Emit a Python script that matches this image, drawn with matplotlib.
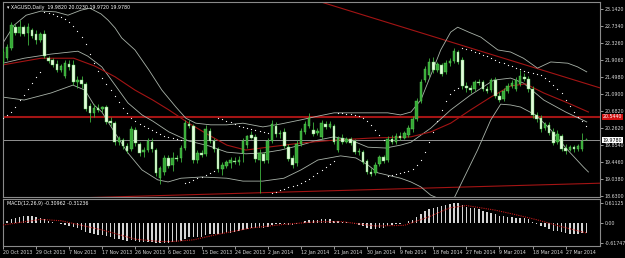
import matplotlib
matplotlib.use("Agg")
import matplotlib.pyplot as plt
from matplotlib.transforms import blended_transform_factory

# ---------- data (XAGUSD daily) ----------
OPEN = [21.87, 21.97, 22.21, 22.71, 22.57, 22.71, 22.57, 22.64, 22.55, 22.40,
        22.55, 21.97, 21.92, 21.82, 21.68, 21.53, 21.82, 21.80, 21.39, 21.43,
        21.34, 20.81, 20.64, 20.76, 20.73, 20.78, 20.44, 20.39, 19.94, 19.98,
        19.84, 19.77, 20.23, 19.89, 19.69, 19.74, 19.94, 19.74, 19.07, 19.21,
        19.55, 19.38, 19.55, 19.55, 19.79, 20.37, 20.32, 19.50, 19.67, 19.65,
        20.20, 19.96, 19.77, 19.28, 19.36, 19.43, 19.48, 19.45, 19.67, 19.86,
        20.10, 20.06, 19.50, 19.65, 19.50, 19.96, 20.32, 20.13, 20.18, 19.82,
        19.55, 19.43, 19.89, 20.18, 20.32, 20.23, 20.15, 20.06, 20.37, 20.30,
        20.32, 19.74, 20.03, 19.94, 20.01, 19.96, 19.69, 19.69, 19.48, 19.21,
        19.19, 19.41, 19.58, 19.50, 20.01, 19.94, 20.08, 20.03, 20.10, 20.25,
        20.49, 20.93, 21.43, 21.56, 21.87, 21.68, 21.80, 21.63, 21.84, 21.89,
        22.11, 21.92, 21.29, 21.24, 21.22, 21.39, 21.39, 21.22, 21.19, 21.43,
        21.05, 20.98, 21.17, 21.29, 21.22, 21.34, 21.51, 21.46, 21.22, 20.59,
        20.52, 20.28, 20.35, 20.18, 19.94, 20.08, 19.79, 19.74, 19.82, 19.77,
        19.77, 19.982]
HIGH = [22.21, 22.30, 22.84, 22.79, 22.88, 22.76, 22.81, 22.69, 22.64, 22.59,
        22.64, 22.01, 21.97, 21.92, 21.82, 21.92, 21.92, 21.92, 21.53, 21.53,
        21.39, 20.88, 20.85, 20.85, 20.81, 20.83, 20.54, 20.44, 20.08, 20.03,
        19.91, 20.32, 20.30, 19.94, 19.81, 20.03, 20.03, 19.79, 19.36, 19.62,
        19.62, 19.69, 19.62, 19.86, 20.47, 20.47, 20.37, 19.74, 19.74, 20.35,
        20.28, 20.03, 19.82, 19.45, 19.50, 19.57, 19.57, 19.60, 20.03, 20.10,
        20.20, 20.13, 19.77, 19.69, 20.03, 20.47, 20.42, 20.23, 20.27, 19.89,
        19.62, 19.98, 20.27, 20.44, 20.64, 20.42, 20.27, 20.47, 20.44, 20.44,
        20.37, 20.08, 20.13, 20.06, 20.06, 20.01, 19.79, 19.74, 19.53, 19.31,
        19.45, 19.62, 19.62, 20.08, 20.10, 20.15, 20.18, 20.20, 20.35, 20.57,
        21.00, 21.46, 21.77, 21.97, 21.99, 21.87, 21.84, 21.92, 21.97, 22.21,
        22.16, 21.99, 21.39, 21.31, 21.43, 21.46, 21.43, 21.29, 21.48, 21.51,
        21.14, 21.24, 21.36, 21.43, 21.51, 21.68, 21.60, 21.53, 21.29, 20.66,
        20.59, 20.42, 20.42, 20.28, 20.23, 20.13, 19.89, 19.86, 19.86, 19.89,
        20.15, 20.023]
LOW = [21.82, 21.92, 22.16, 22.52, 22.50, 22.50, 22.28, 22.45, 22.30, 22.35,
       21.97, 21.84, 21.75, 21.63, 21.63, 21.48, 21.68, 21.31, 21.24, 21.24,
       20.69, 20.42, 20.54, 20.66, 20.66, 20.37, 20.32, 19.86, 19.86, 19.77,
       19.67, 19.72, 19.84, 19.60, 19.57, 19.69, 19.69, 19.11, 18.92, 19.14,
       19.31, 19.24, 19.48, 19.45, 19.74, 20.28, 19.43, 19.43, 19.57, 19.60,
       19.91, 19.69, 19.21, 19.14, 19.31, 19.31, 19.40, 19.38, 19.45, 19.79,
       20.01, 19.45, 18.70, 19.43, 19.43, 19.91, 20.06, 20.03, 19.79, 19.48,
       19.31, 19.36, 19.84, 20.13, 20.27, 20.08, 20.10, 20.01, 20.25, 20.28,
       19.89, 19.69, 19.89, 19.91, 19.86, 19.65, 19.62, 19.41, 19.16, 19.11,
       19.14, 19.36, 19.43, 19.45, 19.89, 19.89, 19.98, 20.01, 20.06, 20.18,
       20.44, 20.88, 21.39, 21.48, 21.60, 21.63, 21.53, 21.58, 21.77, 21.84,
       21.82, 21.22, 21.14, 21.12, 21.17, 21.31, 21.17, 21.12, 21.14, 21.00,
       20.90, 20.93, 21.12, 21.24, 21.17, 21.29, 21.41, 21.14, 20.52, 20.42,
       20.18, 20.23, 20.10, 19.86, 19.89, 19.72, 19.65, 19.72, 19.69, 19.72,
       19.72, 19.972]
CLOSE = [22.11, 22.23, 22.76, 22.57, 22.71, 22.55, 22.71, 22.50, 22.40, 22.55,
         22.01, 21.89, 21.80, 21.68, 21.77, 21.84, 21.75, 21.39, 21.43, 21.34,
         20.73, 20.64, 20.76, 20.71, 20.78, 20.42, 20.39, 19.94, 20.03, 19.84,
         19.72, 20.25, 19.91, 19.67, 19.74, 19.96, 19.77, 19.19, 19.31, 19.55,
         19.36, 19.55, 19.53, 19.79, 20.40, 20.32, 19.50, 19.67, 19.62, 20.25,
         19.96, 19.77, 19.28, 19.38, 19.45, 19.50, 19.45, 19.50, 19.96, 20.08,
         20.03, 19.53, 19.67, 19.48, 19.96, 20.37, 20.13, 20.15, 19.84, 19.53,
         19.38, 19.89, 20.20, 20.37, 20.52, 20.13, 20.20, 20.39, 20.30, 20.37,
         19.94, 20.03, 19.94, 20.01, 19.91, 19.69, 19.72, 19.45, 19.21, 19.16,
         19.38, 19.58, 19.48, 20.01, 19.94, 20.08, 20.03, 20.15, 20.28, 20.49,
         20.93, 21.39, 21.70, 21.87, 21.68, 21.82, 21.58, 21.84, 21.89, 22.14,
         21.87, 21.29, 21.24, 21.19, 21.39, 21.36, 21.22, 21.17, 21.43, 21.05,
         20.95, 21.17, 21.29, 21.36, 21.43, 21.53, 21.46, 21.22, 20.59, 20.49,
         20.25, 20.37, 20.15, 19.91, 20.13, 19.77, 19.72, 19.82, 19.77, 19.84,
         19.96, 19.978]

# parabolic SAR, one dot per bar
SAR = [20.51, 20.59, 20.66, 20.78, 20.95, 21.07, 21.22, 21.36, 21.51, 21.63,
       23.08, 23.05, 23.03, 22.98, 22.96, 22.91, 22.84, 22.74, 22.62, 22.47,
       22.30, 22.06, 21.84, 21.65, 21.48, 21.34, 21.19, 21.05, 20.90, 20.76,
       20.64, 20.51, 20.44, 20.37, 20.32, 20.27, 20.23, 20.18, 20.13, 20.08,
       20.06, 20.03, 20.01, 19.98, 18.94, 18.97, 19.02, 19.06, 19.09, 19.14,
       19.19, 19.23, 20.51, 20.49, 20.44, 20.42, 20.37, 20.32, 20.30, 20.27,
       20.25, 20.23, 20.20, 20.18, 20.15, 18.70, 18.73, 18.77, 18.80, 18.85,
       18.87, 18.90, 18.94, 18.99, 19.04, 19.11, 19.19, 19.26, 19.33, 19.40,
       19.48, 20.64, 20.64, 20.61, 20.61, 20.59, 20.56, 20.51, 20.44, 20.35,
       20.23, 20.10, 19.98, 19.11, 19.14, 19.16, 19.19, 19.21, 19.23, 19.28,
       19.38, 19.50, 19.69, 19.93, 20.18, 20.44, 20.71, 20.93, 21.09, 21.19,
       21.24, 22.21, 22.18, 22.16, 22.11, 22.09, 22.04, 22.01, 21.96, 21.92,
       21.87, 21.84, 21.80, 21.77, 21.72, 21.70, 21.65, 21.63, 21.60, 21.58,
       21.55, 21.48, 21.41, 21.31, 21.22, 21.12, 20.95, 20.80, 20.66, 20.54,
       20.44, 20.32]

# Bollinger bands and moving average, read at sample bars
UP_X = [0, 2.7, 5.6, 9.2, 12.8, 15.7, 18.8, 21.0, 23.7, 25.4, 27.1, 28.7, 31.9, 35.3, 38.4,
        41.8, 44.2, 46.6, 50.2, 54.1, 58.0, 62.8, 67.1, 72.0, 76.1, 80.0, 86.5, 93.0, 96.1,
        98.6, 101.0, 103.4, 105.8, 108.2, 109.9, 112.6, 115.5, 119.6, 122.7, 125.8, 129.2,
        132.4, 136.5, 138.9, 141.1]
UP_Y = [22.33, 22.76, 23.00, 23.10, 23.08, 23.00, 23.12, 23.17, 23.03, 22.88, 22.69, 22.45,
        22.16, 21.67, 21.19, 20.78, 20.51, 20.39, 20.35, 20.35, 20.39, 20.30, 20.37, 20.47,
        20.56, 20.64, 20.64, 20.64, 20.59, 20.66, 20.95, 21.55, 22.16, 22.59, 22.71, 22.59,
        22.47, 22.16, 22.11, 21.96, 21.72, 21.87, 21.84, 21.75, 21.63]
MID_X = [0, 5.1, 11.6, 18.1, 20.5, 23.9, 27.1, 30.2, 33.6, 36.2, 40.1, 44.9, 49.8, 54.1,
         58.7, 62.8, 67.1, 72.0, 76.1, 80.0, 84.1, 88.2, 92.5, 96.1, 98.6, 103.4, 108.2,
         113.0, 118.6, 122.7, 125.8, 130.7, 136.0, 141.1]
MID_Y = [21.84, 21.96, 22.06, 22.13, 22.01, 21.75, 21.31, 20.88, 20.59, 20.44, 20.18, 19.96,
         19.84, 19.69, 19.65, 19.67, 19.74, 19.86, 19.98, 20.06, 19.98, 19.81, 19.79, 19.86,
         19.93, 20.27, 20.71, 21.07, 21.43, 21.48, 21.36, 20.95, 20.66, 20.42]
LOW_X = [0, 5.1, 11.6, 16.9, 19.8, 22.0, 23.9, 27.1, 30.2, 33.6, 37.4, 39.9, 43.0, 48.1,
         54.1, 58.0, 62.8, 67.9, 72.0, 76.1, 81.6, 85.3, 88.2, 90.6, 96.1, 98.6, 101.0,
         103.4, 105.8, 108.9, 110.6, 114.7, 117.9, 120.3, 122.7, 125.1, 128.7, 132.4,
         136.5, 140.3, 141.5]
LOW_Y = [21.02, 20.95, 21.12, 21.31, 21.19, 20.83, 20.66, 20.15, 19.67, 19.26, 19.02, 18.97,
         19.06, 19.09, 19.06, 18.99, 18.99, 19.06, 19.26, 19.50, 19.60, 19.55, 19.38, 19.19,
         19.06, 18.97, 18.85, 18.65, 18.55, 18.55, 18.90, 19.74, 20.47, 20.85, 20.83, 20.78,
         20.59, 20.23, 19.74, 19.33, 19.21]
MA_X = [0, 9.2, 17.1, 22.2, 27.1, 31.9, 36.2, 40.1, 44.9, 49.8, 54.1, 58.7, 64.0, 72.0,
        80.0, 88.9, 98.6, 103.4, 108.2, 113.0, 117.9, 122.7, 126.3, 130.7, 136.5, 141.5]
MA_Y = [21.80, 21.96, 21.96, 21.77, 21.51, 21.19, 20.95, 20.71, 20.39, 20.10, 19.86, 19.74,
        19.81, 19.91, 19.98, 20.03, 20.06, 20.18, 20.39, 20.71, 21.02, 21.29, 21.34, 21.12,
        20.88, 20.66]

# trend lines (bar, price) and horizontal levels
TREND_DOWN_X, TREND_DOWN_Y = [70, 144.4], [23.53, 21.24]
TREND_UP_X, TREND_UP_Y = [20, 144.4], [18.59, 18.94]
RESIST = 20.544
LAST = 19.978

# MACD(12,26,9)
MACD_HIST = [0.03, 0.06, 0.12, 0.15, 0.18, 0.19, 0.20, 0.19, 0.17, 0.15,
             0.10, 0.06, 0.02, -0.02, -0.05, -0.07, -0.09, -0.13, -0.17, -0.21,
             -0.27, -0.31, -0.34, -0.36, -0.38, -0.41, -0.44, -0.48, -0.50, -0.52,
             -0.55, -0.53, -0.55, -0.58, -0.59, -0.57, -0.58, -0.61, -0.62, -0.61,
             -0.60, -0.59, -0.57, -0.55, -0.48, -0.43, -0.44, -0.43, -0.42, -0.36,
             -0.34, -0.33, -0.35, -0.34, -0.32, -0.30, -0.28, -0.26, -0.22, -0.18,
             -0.15, -0.16, -0.15, -0.15, -0.12, -0.07, -0.05, -0.03, -0.04, -0.06,
             -0.07, -0.04, 0.00, 0.04, 0.08, 0.08, 0.08, 0.10, 0.10, 0.10,
             0.06, 0.05, 0.03, 0.02, 0.00, -0.04, -0.06, -0.10, -0.15, -0.18,
             -0.18, -0.16, -0.15, -0.10, -0.08, -0.05, -0.03, 0.00, 0.04, 0.09,
             0.17, 0.27, 0.35, 0.42, 0.45, 0.49, 0.50, 0.53, 0.57, 0.61,
             0.60, 0.54, 0.49, 0.45, 0.44, 0.40, 0.36, 0.32, 0.30, 0.25,
             0.21, 0.19, 0.17, 0.16, 0.15, 0.15, 0.14, 0.10, 0.02, -0.05,
             -0.11, -0.14, -0.18, -0.24, -0.25, -0.29, -0.32, -0.33, -0.33, -0.33,
             -0.31, -0.31]
SIG_X = [0, 9, 14, 24, 32, 38, 41, 46, 52, 60, 68, 76, 82, 90, 97, 103, 108, 112, 119, 124,
         129, 135, 141]
SIG_Y = [-0.07, 0.10, 0.06, -0.22, -0.50, -0.57, -0.57, -0.52, -0.35, -0.16, -0.05, 0.03,
         0.03, -0.10, -0.08, 0.18, 0.45, 0.52, 0.38, 0.24, 0.09, -0.12, -0.31]

PRICE_TICKS = [23.142, 22.734, 22.326, 21.906, 21.498, 21.090, 20.682, 20.262,
               19.854, 19.446, 19.038, 18.630]
PRICE_LABELS = ["23.1420", "22.7340", "22.3260", "21.9060", "21.4980", "21.0900",
                "20.6820", "20.2620", "19.8540", "19.4460", "19.0380", "18.6300"]
MACD_TICKS = [0.61125, 0.0, -0.61747]
MACD_LABELS = ["0.61125", "0.00", "-0.61747"]
DATE_BARS = list(range(0, 137, 8))
DATE_LABELS = ["20 Oct 2013", "29 Oct 2013", "7 Nov 2013", "17 Nov 2013", "26 Nov 2013",
               "6 Dec 2013", "15 Dec 2013", "24 Dec 2013", "2 Jan 2014", "12 Jan 2014",
               "21 Jan 2014", "30 Jan 2014", "9 Feb 2014", "18 Feb 2014", "27 Feb 2014",
               "9 Mar 2014", "18 Mar 2014", "27 Mar 2014"]

# ---------- style ----------
BG = "black"
FRAME = "#8a8a8a"
TXT = "#d8d8d8"
BULL = "#35a835"
BEAR = "#e4fbdc"
EDGE = "#5fd35f"
WICK = "#3fb43f"
BAND = "#a9b3a9"
DARKRED = "#a31414"
FS = 3.4

fig = plt.figure(figsize=(6.25, 2.58), dpi=100, facecolor=BG)
ax = fig.add_axes([3 / 625, 1 - 197 / 258, 597 / 625, 195 / 258], facecolor=BG)
ax2 = fig.add_axes([3 / 625, 1 - 246 / 258, 597 / 625, 47 / 258], facecolor=BG, sharex=ax)

bars = list(range(len(OPEN)))

# ---------- price panel ----------
ax.plot(TREND_DOWN_X, TREND_DOWN_Y, color=DARKRED, lw=0.8, zorder=1)
ax.plot(TREND_UP_X, TREND_UP_Y, color=DARKRED, lw=0.8, zorder=1)
ax.axhline(RESIST, color=DARKRED, lw=1.5, zorder=1)
ax.axhline(LAST, color="#a8a8a8", lw=0.6, zorder=1)

ax.plot(UP_X, UP_Y, color=BAND, lw=0.6, zorder=2)
ax.plot(MID_X, MID_Y, color=BAND, lw=0.6, zorder=2)
ax.plot(LOW_X, LOW_Y, color=BAND, lw=0.6, zorder=2)
ax.plot(MA_X, MA_Y, color=DARKRED, lw=0.8, zorder=2)

ax.vlines(bars, LOW, HIGH, color=WICK, lw=0.6, zorder=3)
bottoms = [min(o, c) for o, c in zip(OPEN, CLOSE)]
heights = [max(abs(c - o), 0.015) for o, c in zip(OPEN, CLOSE)]
faces = [BULL if c >= o else BEAR for o, c in zip(OPEN, CLOSE)]
ax.bar(bars, heights, bottom=bottoms, width=0.62, color=faces,
       edgecolor=EDGE, linewidth=0.3, zorder=4)

ax.plot(bars, SAR, linestyle="none", marker="o", ms=0.9, mew=0, color="white", zorder=5)

ax.set_xlim(0.1, 144.3)
ax.set_ylim(18.606, 23.319)
ax.yaxis.tick_right()
ax.set_yticks(PRICE_TICKS)
ax.set_yticklabels(PRICE_LABELS)
ax.tick_params(axis="y", colors=TXT, labelsize=FS, length=2, width=0.5, pad=1.5)
ax.tick_params(axis="x", bottom=False, labelbottom=False)

yt = blended_transform_factory(ax.transAxes, ax.transData)
ax.text(1.004, RESIST, "20.5440", transform=yt, fontsize=FS, color="white",
        va="center", ha="left",
        bbox=dict(boxstyle="square,pad=0.15", fc="#d01010", ec="none"))
ax.text(1.004, LAST, "19.9780", transform=yt, fontsize=FS, color="black",
        va="center", ha="left",
        bbox=dict(boxstyle="square,pad=0.15", fc="white", ec="none"))
ax.text(0.006, 0.985, "\u25be XAGUSD,Daily  19.9820 20.0230 19.9720 19.9780",
        transform=ax.transAxes, fontsize=FS, color="white", va="top", ha="left")

# ---------- MACD panel ----------
ax2.bar(bars, MACD_HIST, width=0.35, color="#d4d4d4", zorder=2)
ax2.plot(SIG_X, SIG_Y, color="#c41a1a", lw=0.8, ls=(0, (1, 1)), zorder=3)
ax2.set_ylim(-0.706, 0.718)
ax2.yaxis.tick_right()
ax2.set_yticks(MACD_TICKS)
ax2.set_yticklabels(MACD_LABELS)
ax2.tick_params(axis="y", colors=TXT, labelsize=FS, length=2, width=0.5, pad=1.5)
ax2.set_xticks(DATE_BARS)
ax2.set_xticklabels(DATE_LABELS)
ax2.tick_params(axis="x", colors=TXT, labelsize=FS, length=2, width=0.5, pad=1)
for lab in ax2.get_xticklabels():
    lab.set_horizontalalignment("left")
ax2.text(0.006, 0.95, "MACD(12,26,9) -0.30962 -0.31236", transform=ax2.transAxes,
         fontsize=FS, color="white", va="top", ha="left")

for a in (ax, ax2):
    for s in a.spines.values():
        s.set_color(FRAME)
        s.set_linewidth(0.8)

fig.savefig("out.png", dpi=100, facecolor=BG)
